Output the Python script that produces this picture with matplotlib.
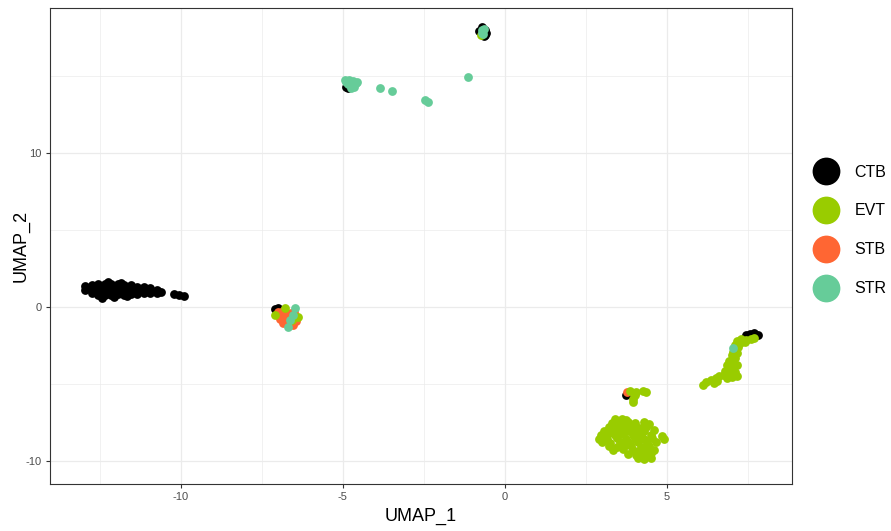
import matplotlib
matplotlib.use("Agg")
import matplotlib.pyplot as plt
from matplotlib.lines import Line2D

plt.rcParams['font.family'] = ['Liberation Sans', 'DejaVu Sans']
plt.rcParams['axes.unicode_minus'] = False

# cell type colours
cell_types = ['CTB', 'EVT', 'STB', 'STR']
colors = {'CTB': '#000000', 'EVT': '#99CC00', 'STB': '#FF6633', 'STR': '#66CC99'}

# CTB points
ctb_x = [-12.95, -12.95, -12.75, -12.75, -12.75, -12.55, -12.55, -12.55, -12.55,
         -12.35, -12.35, -12.35, -12.35, -12.15, -12.15, -12.15, -12.15,
         -11.95, -11.95, -11.95, -11.95, -11.75, -11.75, -11.75, -11.75,
         -11.55, -11.55, -11.55, -11.55, -11.35, -11.35, -11.35,
         -11.15, -11.15, -11.15, -10.95, -10.95, -10.95, -10.75, -10.75, -10.6,
         -12.45, -12.05, -11.65, -12.25, -11.85,
         -10.2, -10.05, -9.9,
         -7.1, -7.0,
         -4.85, -4.9,
         -0.75, -0.62, -0.6, -0.72, -0.65, -0.8, -0.58,
         3.73,
         7.55, 7.7, 7.8, 7.62, 7.45]
ctb_y = [1.1, 1.35, 0.9, 1.2, 1.45, 0.8, 1.05, 1.3, 1.5,
         0.75, 1.0, 1.25, 1.5, 0.8, 1.05, 1.3, 1.5,
         0.85, 1.1, 1.35, 1.5, 0.8, 1.05, 1.3, 1.45,
         0.85, 1.1, 1.35, 1.45, 0.85, 1.1, 1.3,
         0.9, 1.1, 1.3, 0.9, 1.1, 1.25, 0.9, 1.1, 0.95,
         0.6, 0.65, 0.7, 1.6, 1.55,
         0.85, 0.8, 0.7,
         -0.15, -0.1,
         14.2, 14.3,
         17.85, 17.65, 18.0, 18.15, 17.6, 17.9, 17.8,
         -5.7,
         -1.75, -1.7, -1.85, -1.9, -1.85]

# STB points
stb_x = [-7.0, -6.85, -6.9, -6.75, -6.6, -6.95, -6.8, -6.6, -6.45, -6.85, -6.7,
         -6.55, -6.5, 3.78]
stb_y = [-0.35, -0.3, -0.55, -0.5, -0.4, -0.8, -0.85, -0.75, -0.9, -1.05, -1.1,
         -1.15, -0.35, -5.5]

# EVT points
evt_x = [-7.1, -6.79, -6.39, -6.58,
         -0.73,
         3.85, 4.05, 4.25, 4.35, 4.0, 3.95, 3.95,
         3.4, 3.6, 3.75,
         3.3, 3.55, 3.8, 4.0, 4.3, 4.45,
         3.2, 3.45, 3.7, 3.9, 4.15, 4.35,
         3.05, 3.3, 3.55, 3.8, 4.05, 4.3, 4.6,
         2.95, 3.15, 3.4, 3.65, 3.95, 4.2, 4.5, 4.85,
         2.9, 3.15, 3.45, 3.75, 4.0, 4.3, 4.55, 4.9,
         3.0, 3.25, 3.55, 3.8, 4.1, 4.4, 4.65,
         3.2, 3.45, 3.7, 3.9, 4.2, 4.45,
         3.35, 3.65, 3.95, 4.15, 4.4, 4.6,
         3.8, 4.05, 4.3, 4.5,
         4.1, 4.3, 4.5,
         7.3, 7.45, 7.6, 7.7, 7.4, 7.25,
         7.15, 7.1, 7.05, 7.0, 7.1, 7.15, 7.2,
         6.9, 7.05, 7.15, 6.85, 7.0, 6.8, 7.1, 6.95, 6.75, 7.0, 7.15, 6.85,
         6.6, 6.5, 6.35, 6.2, 6.1, 6.55, 6.45]
evt_y = [-0.52, -0.06, -0.65, -0.88,
         17.62,
         -5.45, -5.5, -5.45, -5.5, -5.7, -5.95, -6.15,
         -7.3, -7.25, -7.35,
         -7.55, -7.6, -7.5, -7.55, -7.5, -7.6,
         -7.8, -7.85, -7.75, -7.8, -7.85, -7.8,
         -8.05, -8.1, -8.0, -8.05, -8.1, -8.05, -8.0,
         -8.3, -8.3, -8.35, -8.25, -8.3, -8.35, -8.3, -8.4,
         -8.55, -8.6, -8.5, -8.55, -8.6, -8.55, -8.5, -8.55,
         -8.8, -8.85, -8.8, -8.75, -8.8, -8.85, -8.8,
         -9.05, -9.1, -9.0, -9.05, -9.1, -9.05,
         -9.3, -9.25, -9.3, -9.35, -9.3, -9.3,
         -9.55, -9.6, -9.55, -9.5,
         -9.8, -9.85, -9.8,
         -2.1, -2.15, -2.1, -2.05, -2.3, -2.35,
         -2.2, -2.45, -2.9, -3.1, -3.3, -3.0, -2.6,
         -3.5, -3.6, -3.8, -3.8, -4.0, -4.15, -4.2, -4.35, -4.45, -4.55, -4.5, -4.6,
         -4.5, -4.6, -4.75, -4.9, -5.05, -4.8, -4.95]

# STR points
str_x = [-6.48, -6.64, -6.7, -6.54,
         -4.9, -4.8, -4.7, -4.6, -4.75, -4.85, -4.65, -4.75, -4.95, -4.55,
         -3.86, -3.49, -2.47, -2.38, -1.14,
         -0.72, -0.66, -0.7, -0.68,
         7.04]
str_y = [-0.06, -0.84, -1.3, -0.52,
         14.6, 14.75, 14.65, 14.5, 14.4, 14.45, 14.3, 14.2, 14.7, 14.6,
         14.2, 14.0, 13.44, 13.3, 14.9,
         17.95, 18.05, 17.8, 17.7,
         -2.66]

points = {'CTB': (ctb_x, ctb_y), 'STB': (stb_x, stb_y),
          'EVT': (evt_x, evt_y), 'STR': (str_x, str_y)}

fig = plt.figure(figsize=(8.91, 5.31), dpi=100)
ax = fig.add_axes([0.0561, 0.0885, 0.8328, 0.8965])

for ct in ['CTB', 'STB', 'EVT', 'STR']:
    xs, ys = points[ct]
    ax.scatter(xs, ys, s=40, color=colors[ct], linewidths=0, zorder=3)

ax.set_xlim(-14.04, 8.86)
ax.set_ylim(-11.5, 19.4)
ax.set_xticks([-10, -5, 0, 5])
ax.set_yticks([-10, 0, 10])
ax.set_xticks([-12.5, -7.5, -2.5, 2.5, 7.5], minor=True)
ax.set_yticks([-5, 5, 15], minor=True)
ax.grid(which='major', color='#EBEBEB', linewidth=0.9, zorder=0)
ax.grid(which='minor', color='#EBEBEB', linewidth=0.5, zorder=0)
ax.set_axisbelow(True)
ax.tick_params(which='major', length=3, width=0.8, color='#333333',
               labelsize=8, labelcolor='#4D4D4D', pad=3)
ax.tick_params(which='minor', length=0)
for sp in ax.spines.values():
    sp.set_color('#333333')
    sp.set_linewidth(0.8)

ax.set_xlabel('UMAP_1', fontsize=13, labelpad=4)
ax.set_ylabel('UMAP_2', fontsize=13)
ax.yaxis.set_label_coords(-0.027, 0.5)

handles = [Line2D([], [], marker='o', linestyle='', markersize=20,
                  markerfacecolor=colors[ct], markeredgewidth=0, label=ct)
           for ct in cell_types]
fig.legend(handles=handles, loc='center left', bbox_to_anchor=(0.905, 0.566),
           frameon=False, fontsize=11.5, labelspacing=1.5, handletextpad=1.0,
           handlelength=1.5, borderpad=0)

fig.savefig('out.png', dpi=100)
